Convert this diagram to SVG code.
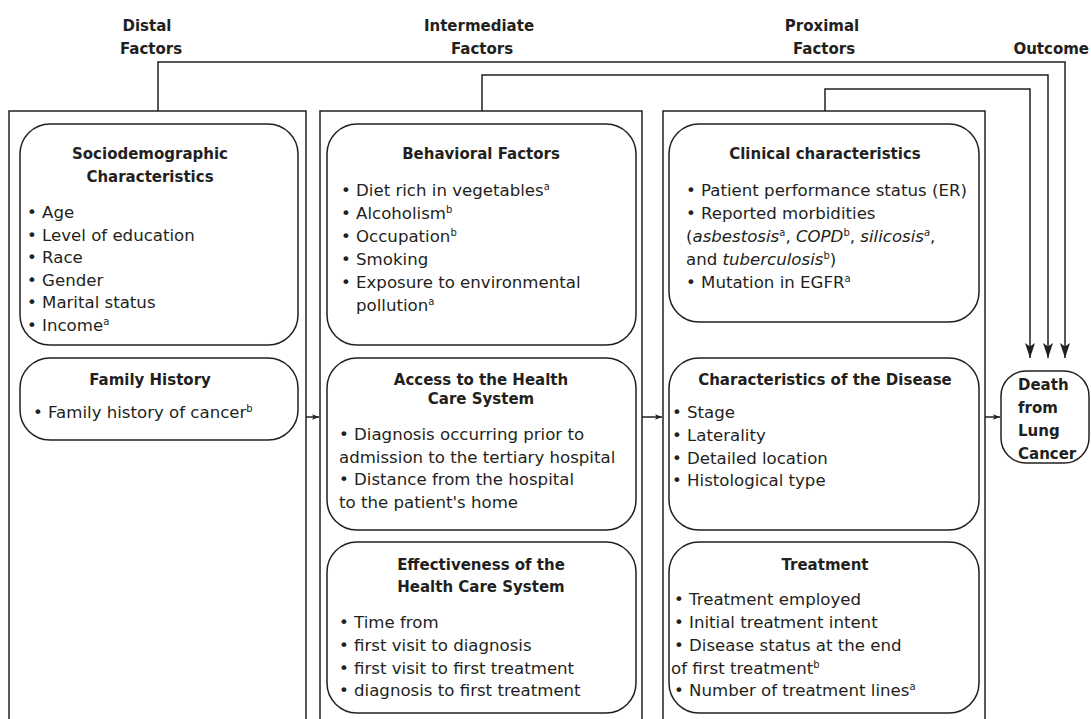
<svg xmlns="http://www.w3.org/2000/svg" width="1091" height="719" viewBox="0 0 1091 719">
<style>
text{font-family:"DejaVu Sans","Liberation Sans",sans-serif;fill:#231f20}
.h{font-weight:bold;font-size:15px}
.t{font-weight:bold;font-size:15px;text-anchor:middle}
.b{font-size:16.6px}
.s{font-size:10px}
.frame{fill:none;stroke:#231f20;stroke-width:1.5}
.box{fill:#fff;stroke:#231f20;stroke-width:1.5}
.con{fill:none;stroke:#231f20;stroke-width:1.5}
</style>
<defs>
<marker id="big" markerUnits="userSpaceOnUse" markerWidth="16" markerHeight="12" viewBox="0 -6 16 12" refX="15" refY="0" orient="auto">
<path d="M0,-5 L15,0 L0,5 L3.5,0 Z" fill="#231f20"/>
</marker>
<marker id="small" markerUnits="userSpaceOnUse" markerWidth="8" markerHeight="6" viewBox="0 -3 8 6" refX="7" refY="0" orient="auto">
<path d="M0,-2.8 L7,0 L0,2.8 L1.6,0 Z" fill="#231f20"/>
</marker>
</defs>
<rect width="1091" height="719" fill="#fff"/>

<g id="headers">
<text class="t" x="147" y="31">Distal</text>
<text class="t" x="151" y="54">Factors</text>
<text class="t" x="479" y="31">Intermediate</text>
<text class="t" x="482" y="54">Factors</text>
<text class="t" x="822" y="31">Proximal</text>
<text class="t" x="824" y="54">Factors</text>
<text class="h" x="1089" y="54" text-anchor="end">Outcome</text>
</g>

<g id="col-distal">
<path class="frame" d="M9,725 V111 H306 V725"/>
</g>
<g id="col-intermediate">
<path class="frame" d="M320,725 V111 H642 V725"/>
</g>
<g id="col-proximal">
<path class="frame" d="M663,725 V111 H985 V725"/>
</g>

<g id="connectors">
<path class="con" d="M158,111 V62 H1065 V358" marker-end="url(#big)"/>
<path class="con" d="M482,111 V75 H1048 V358" marker-end="url(#big)"/>
<path class="con" d="M825,111 V89 H1030 V358" marker-end="url(#big)"/>
<path class="con" d="M306,417 H319" marker-end="url(#small)"/>
<path class="con" d="M642,417 H662" marker-end="url(#small)"/>
<path class="con" d="M985,417 H1000" marker-end="url(#small)"/>
</g>

<g id="sociodemographic">
<rect class="box" x="20" y="124" width="278" height="221" rx="30"/>
<text class="t" x="150" y="159">Sociodemographic</text>
<text class="t" x="150" y="182">Characteristics</text>
<text class="b" x="27" y="218">• Age</text>
<text class="b" x="27" y="240.5">• Level of education</text>
<text class="b" x="27" y="263">• Race</text>
<text class="b" x="27" y="285.5">• Gender</text>
<text class="b" x="27" y="308">• Marital status</text>
<text class="b" x="27" y="330.5">• Income<tspan class="s" dy="-6">a</tspan></text>
</g>

<g id="family-history">
<rect class="box" x="20" y="358" width="278" height="82" rx="30"/>
<text class="t" x="150" y="385">Family History</text>
<text class="b" x="33" y="418">• Family history of cancer<tspan class="s" dy="-6">b</tspan></text>
</g>

<g id="behavioral">
<rect class="box" x="327" y="124" width="309" height="221" rx="30"/>
<text class="t" x="481" y="159">Behavioral Factors</text>
<text class="b" x="341" y="196">• Diet rich in vegetables<tspan class="s" dy="-6">a</tspan></text>
<text class="b" x="341" y="219">• Alcoholism<tspan class="s" dy="-6">b</tspan></text>
<text class="b" x="341" y="242">• Occupation<tspan class="s" dy="-6">b</tspan></text>
<text class="b" x="341" y="265">• Smoking</text>
<text class="b" x="341" y="288">• Exposure to environmental</text>
<text class="b" x="356" y="311">pollution<tspan class="s" dy="-6">a</tspan></text>
</g>

<g id="access">
<rect class="box" x="327" y="358" width="309" height="172" rx="30"/>
<text class="t" x="481" y="385">Access to the Health</text>
<text class="t" x="481" y="404">Care System</text>
<text class="b" x="339" y="440">• Diagnosis occurring prior to</text>
<text class="b" x="339" y="462.5">admission to the tertiary hospital</text>
<text class="b" x="339" y="485">• Distance from the hospital</text>
<text class="b" x="339" y="507.5">to the patient's home</text>
</g>

<g id="effectiveness">
<rect class="box" x="327" y="542" width="309" height="171" rx="30"/>
<text class="t" x="481" y="570">Effectiveness of the</text>
<text class="t" x="481" y="592">Health Care System</text>
<text class="b" x="339" y="628">• Time from</text>
<text class="b" x="339" y="651">• first visit to diagnosis</text>
<text class="b" x="339" y="674">• first visit to first treatment</text>
<text class="b" x="339" y="696">• diagnosis to first treatment</text>
</g>

<g id="clinical">
<rect class="box" x="669" y="124" width="310" height="198" rx="30"/>
<text class="t" x="825" y="159">Clinical characteristics</text>
<text class="b" x="686" y="196">• Patient performance status (ER)</text>
<text class="b" x="686" y="219">• Reported morbidities</text>
<text class="b" x="686" y="242">(<tspan font-style="italic">asbestosis</tspan><tspan class="s" dy="-6">a</tspan><tspan dy="6">, </tspan><tspan font-style="italic">COPD</tspan><tspan class="s" dy="-6">b</tspan><tspan dy="6">, </tspan><tspan font-style="italic">silicosis</tspan><tspan class="s" font-style="italic" dy="-6">a</tspan><tspan dy="6">,</tspan></text>
<text class="b" x="686" y="265">and <tspan font-style="italic">tuberculosis</tspan><tspan class="s" dy="-6">b</tspan><tspan dy="6">)</tspan></text>
<text class="b" x="686" y="288">• Mutation in EGFR<tspan class="s" dy="-6">a</tspan></text>
</g>

<g id="disease">
<rect class="box" x="669" y="358" width="310" height="172" rx="30"/>
<text class="t" x="825" y="385">Characteristics of the Disease</text>
<text class="b" x="672" y="418">• Stage</text>
<text class="b" x="672" y="441">• Laterality</text>
<text class="b" x="672" y="463.5">• Detailed location</text>
<text class="b" x="672" y="486">• Histological type</text>
</g>

<g id="treatment">
<rect class="box" x="669" y="542" width="310" height="171" rx="30"/>
<text class="t" x="825" y="570">Treatment</text>
<text class="b" x="674" y="605">• Treatment employed</text>
<text class="b" x="674" y="628">• Initial treatment intent</text>
<text class="b" x="674" y="651">• Disease status at the end</text>
<text class="b" x="671" y="674">of first treatment<tspan class="s" dy="-6">b</tspan></text>
<text class="b" x="674" y="696">• Number of treatment lines<tspan class="s" dy="-6">a</tspan></text>
</g>

<g id="death">
<rect class="box" x="1001" y="371" width="88" height="92" rx="25"/>
<text class="h" x="1018" y="390">Death</text>
<text class="h" x="1018" y="413">from</text>
<text class="h" x="1018" y="436">Lung</text>
<text class="h" x="1018" y="459">Cancer</text>
</g>
</svg>
